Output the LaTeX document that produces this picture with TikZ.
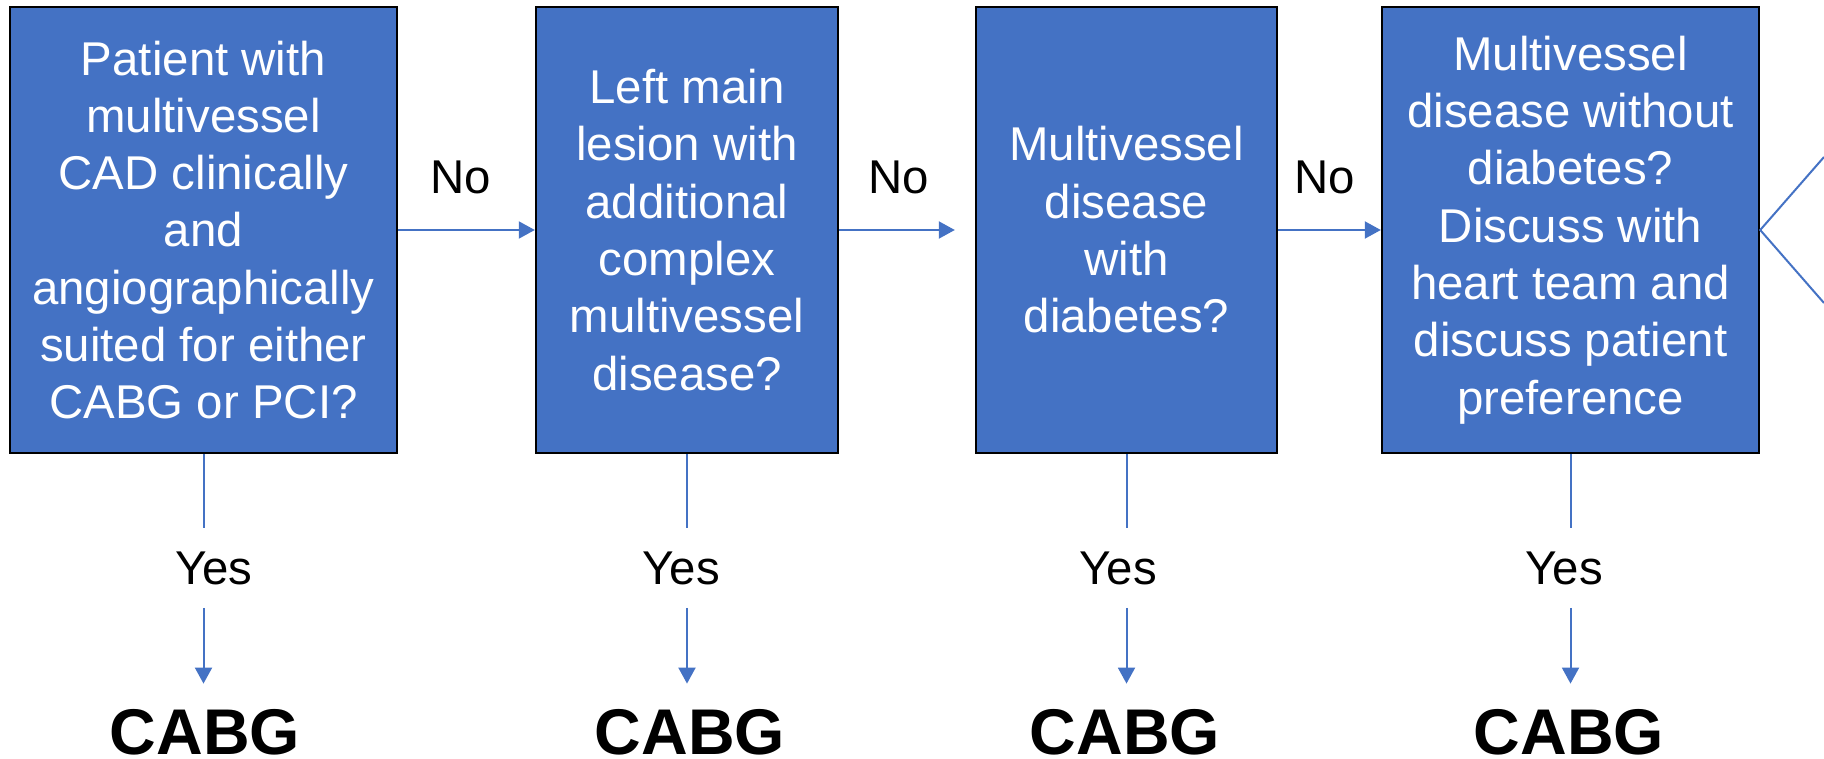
\documentclass[tikz,border=0pt]{standalone}
\usepackage{fontspec}
\setmainfont{Liberation Sans}
\usetikzlibrary{arrows.meta}
\definecolor{boxblue}{HTML}{4472C4}
\begin{document}
\begin{tikzpicture}[x=0.5pt,y=-0.5pt,
  decision/.style={draw=black, line width=1.2pt, fill=boxblue, text=white,
    align=center, inner sep=0pt, minimum height=223pt,
    font=\fontsize{23.7}{28.65}\selectfont},
  answer/.style={inner sep=0pt, font=\fontsize{23.7}{28}\selectfont},
  yeslabel/.style={answer, minimum height=39.5pt},
  outcome/.style={inner sep=0pt, minimum height=48pt,
    font=\fontsize{32.3}{36}\selectfont\bfseries},
  link/.style={draw=boxblue, line width=1pt},
  flow/.style={link, -{Triangle[length=8pt,width=8.5pt]}}
]
\useasboundingbox (0,0) rectangle (1824,759);

% decision boxes
\node[decision, minimum width=193.5pt] (q1) at (203.5,230)
  {Patient with\\ multivessel\\ CAD clinically\\ and\\ angiographically\\ suited for either\\ CABG or PCI?};
\node[decision, minimum width=151pt] (q2) at (687,230)
  {Left main\\ lesion with\\ additional\\ complex\\ multivessel\\ disease?};
\node[decision, minimum width=150.5pt] (q3) at (1126.5,230)
  {Multivessel\\ disease\\ with\\ diabetes?};
\node[decision, minimum width=188.5pt] (q4) at (1570.5,230)
  {Multivessel\\ disease without\\ diabetes?\\ Discuss with\\ heart team and\\ discuss patient\\ preference};

% "No" branches
\draw[flow] (q1.east) -- (q2.west);
\draw[flow, shorten >=10pt] (q2.east) -- (q3.west);
\draw[flow] (q3.east) -- (q4.west);
\node[answer] (n1) at (461,177) {No};
\node[answer] (n2) at (899,177) {No};
\node[answer] (n3) at (1325,177) {No};

% "Yes" labels and outcomes
\node[yeslabel] (y1) at (214,568) {Yes};
\node[yeslabel] (y2) at (681,568) {Yes};
\node[yeslabel] (y3) at (1118,568) {Yes};
\node[yeslabel] (y4) at (1564,568) {Yes};
\node[outcome] (c1) at (205,732) {CABG};
\node[outcome] (c2) at (690,732) {CABG};
\node[outcome] (c3) at (1125,732) {CABG};
\node[outcome] (c4) at (1569,732) {CABG};

\foreach \i in {1,2,3,4}{
  \draw[link] (q\i.south) -- (q\i.south |- y\i.north);
  \draw[flow] (q\i.south |- y\i.south) -- (q\i.south |- c\i.north);
}

% branches leaving the last box
\coordinate (e1) at (1824,157);
\coordinate (e2) at (1824,303);
\draw[link] (e1) -- (q4.east) -- (e2);
\end{tikzpicture}
\end{document}
